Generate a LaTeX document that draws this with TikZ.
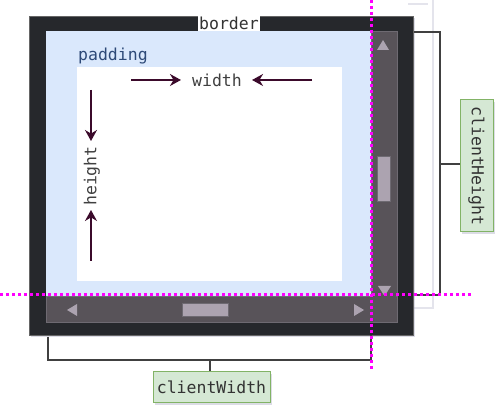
\documentclass[tikz,border=0pt]{standalone}
\usepackage{fontspec}
\setmonofont{DejaVu Sans Mono}
\usetikzlibrary{arrows.meta,shadows}
\definecolor{frame}{HTML}{26282C}
\definecolor{padblue}{HTML}{DAE8FC}
\definecolor{track}{HTML}{585359}
\definecolor{trackedge}{HTML}{6E6A72}
\definecolor{thumb}{HTML}{ACA3B0}
\definecolor{arrowc}{HTML}{3B0A2B}
\definecolor{magenta}{HTML}{FF00FF}
\definecolor{gfill}{HTML}{D5E8D4}
\definecolor{gedge}{HTML}{82B366}
\definecolor{ghost}{HTML}{E4E4EC}
\definecolor{padtext}{HTML}{2E4A78}
\definecolor{shad}{HTML}{9A9AB8}
\tikzset{
  mono/.style={font=\ttfamily\fontsize{16.5}{18}\selectfont, inner sep=0pt},
  shd/.style={drop shadow={shadow xshift=2pt,shadow yshift=-2pt,opacity=0.35,fill=shad}},
  arr/.style={draw=arrowc, line width=1.6pt, -{Stealth[length=11pt,width=12pt]}},
  bracket/.style={draw=black!75, line width=1.5pt},
  ghostline/.style={draw=ghost, line width=2pt},
  dotline/.style={draw=magenta, line width=3pt, dash pattern=on 3pt off 3pt},
  labelbox/.style={mono, fill=gfill, draw=gedge, line width=1pt, shd, text=black!80},
  tri/.style={fill=thumb, draw=none},
}
\begin{document}
\begin{tikzpicture}[x=1pt,y=-1pt]
\useasboundingbox (0,0) rectangle (499,409);
% ghost lines
\draw[ghostline] (408,4) -- (428,4);
\draw[ghostline] (433,0) -- (433,308) -- (414,308);
% window frame
\node[shd, fill=frame, draw=black!60, line width=0.5pt, minimum width=384pt, minimum height=319pt, inner sep=0pt, anchor=north west] (frame) at (29,16) {};
\node[fill=padblue, inner sep=0pt, minimum width=325pt, minimum height=265pt, anchor=north west] (pad) at (46,31) {};
\node[fill=white, inner sep=0pt, minimum width=265pt, minimum height=214pt, anchor=north west] (content) at (77,67) {};
% scrollbars
\node[fill=track, draw=trackedge, line width=1pt, inner sep=0pt, minimum width=26pt, minimum height=291pt, anchor=north west] (vscroll) at (371,31) {};
\node[fill=track, draw=trackedge, line width=1pt, inner sep=0pt, minimum width=351pt, minimum height=26pt, anchor=north west] (hscroll) at (46,296) {};
\fill[track] (372,290) rectangle (396,321);
\node[fill=thumb, draw=trackedge, inner sep=0pt, minimum width=13pt, minimum height=45pt, anchor=north west] (vthumb) at (377,156) {};
\node[fill=thumb, draw=trackedge, inner sep=0pt, minimum width=46pt, minimum height=13pt, anchor=north west] (hthumb) at (182,303) {};
\fill[tri] (377,50) -- (389,50) -- (383,40) -- cycle;
\fill[tri] (378,286) -- (391,286) -- (384.5,296) -- cycle;
\fill[tri] (77,304) -- (77,316) -- (67,310) -- cycle;
\fill[tri] (354,304) -- (354,316) -- (364,310) -- cycle;
% texts
\node[mono, fill=white, text=black!80, minimum height=15pt, inner xsep=1pt, anchor=north west] (border) at (198,16) {border};
\node[mono, text=padtext, anchor=base west] (padding) at (78,61) {padding};
\node[mono, text=black!75] (wlab) at (217,80) {width};
\node[mono, text=black!75, rotate=90] (hlab) at (92,176) {height};
\coordinate (wl) at (131,80);
\coordinate (wr) at (312,80);
\coordinate (ht) at (91,90);
\coordinate (hb) at (91,261);
\draw[arr] (wl) -- ([xshift=-11pt]wlab.west);
\draw[arr] (wr) -- ([xshift=10pt]wlab.east);
\draw[arr] (ht) -- (91,141);
\draw[arr] (hb) -- (91,210);
% clientHeight bracket
\node[labelbox, rotate=-90, minimum width=132pt, minimum height=33pt] (chl) at (476.5,166) {clientHeight};
\coordinate (cht) at (414,32);
\coordinate (chb) at (414,295);
\draw[bracket] (cht) -- (440,32) -- (440,295) -- (chb);
\draw[bracket] (440,164) -- (chl.south |- 440,164);
% clientWidth bracket
\node[labelbox, minimum width=117pt, minimum height=31pt] (cwl) at (211.5,387.5) {clientWidth};
\coordinate (cwa) at (48,337);
\coordinate (cwb) at (371,335);
\draw[bracket] (cwa) -- (48,360) -- (371,360) -- (cwb);
\draw[bracket] (210,360) -- (cwl.north -| 210,360);
% magenta dotted lines
\draw[dotline] (371,0) -- (371,371);
\draw[dotline] (0,295) -- (472,295);
\end{tikzpicture}
\end{document}
